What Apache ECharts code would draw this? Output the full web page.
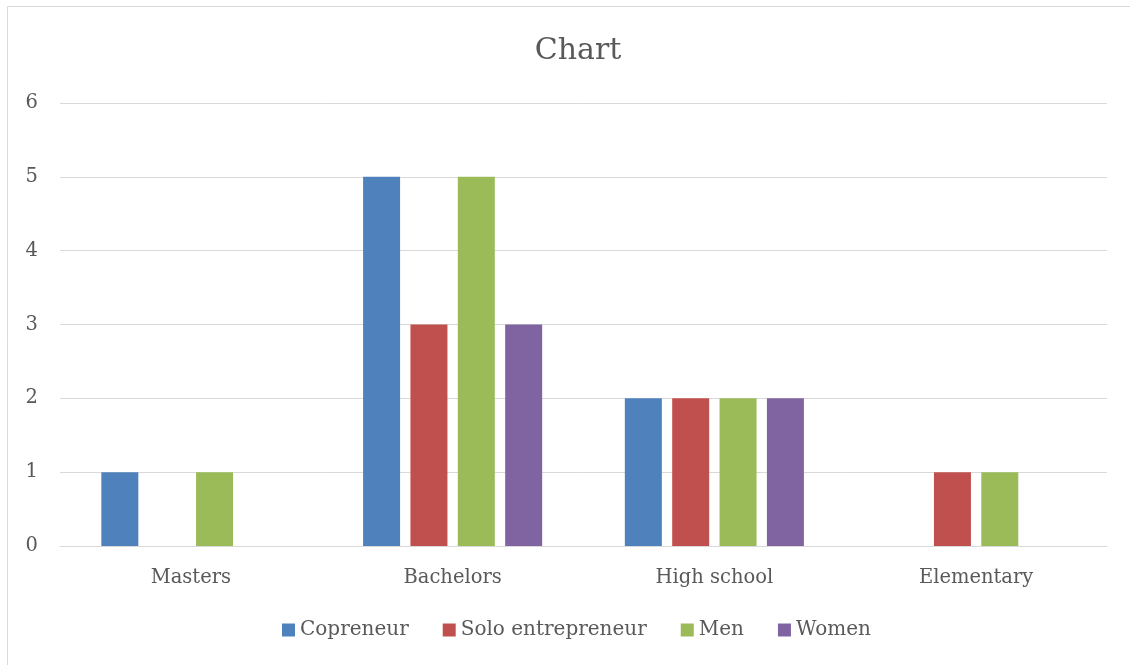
<!DOCTYPE html>
<html>
<head>
<meta charset="utf-8">
<script src="https://cdn.jsdelivr.net/npm/echarts@6/dist/echarts.min.js"></script>
<style>
  html, body { margin: 0; padding: 0; background: #fff; }
  #main { width: 1130px; height: 665px; }
</style>
</head>
<body>
<div id="main"></div>
<script>
var categories = ['Masters', 'Bachelors', 'High school', 'Elementary'];
var seriesNames = ['Copreneur', 'Solo entrepreneur', 'Men', 'Women'];
var copreneur = [1, 5, 2, 0];
var solo = [0, 3, 2, 1];
var men = [1, 5, 2, 1];
var women = [0, 3, 2, 0];
var yTicks = [0, 1, 2, 3, 4, 5, 6];

var colors = ['#4F81BD', '#C0504D', '#9BBB59', '#8064A2'];
var font = 'DejaVu Serif';
var values = [copreneur, solo, men, women];

var chart = echarts.init(document.getElementById('main'));

function barSeries(i) {
  return {
    name: seriesNames[i],
    type: 'bar',
    data: values[i],
    barWidth: 37,
    barGap: '28%',
    itemStyle: { color: colors[i] },
    animation: false
  };
}

chart.setOption({
  animation: false,
  title: {
    text: 'Chart',
    left: 573,
    textAlign: 'center',
    top: 31,
    textStyle: { fontFamily: font, fontSize: 30, fontWeight: 'normal', color: '#595959' }
  },
  // outer frame, only left and top edges are inside the picture
  graphic: [{
    type: 'rect',
    shape: { x: 7.5, y: 6.5, width: 1140, height: 680 },
    style: { fill: 'none', stroke: '#d9d9d9', lineWidth: 1 },
    silent: true
  }],
  legend: {
    data: seriesNames,
    bottom: 20,
    left: 277,
    itemWidth: 13,
    itemHeight: 13,
    itemGap: 34,
    icon: 'rect',
    textStyle: { fontFamily: font, fontSize: 20, color: '#595959' }
  },
  grid: { left: 60, right: 23, top: 103, bottom: 119 },
  xAxis: {
    type: 'category',
    data: categories,
    axisTick: { show: false },
    axisLine: { lineStyle: { color: '#d9d9d9', width: 1 } },
    axisLabel: { fontFamily: font, fontSize: 19.5, color: '#595959', margin: 22 }
  },
  yAxis: {
    type: 'value',
    min: yTicks[0],
    max: yTicks[yTicks.length - 1],
    interval: 1,
    axisLine: { show: false },
    axisTick: { show: false },
    splitLine: { lineStyle: { color: '#d9d9d9', width: 1 } },
    axisLabel: { fontFamily: font, fontSize: 19.5, color: '#595959', margin: 22, padding: [4, 0, 0, 0] }
  },
  series: [barSeries(0), barSeries(1), barSeries(2), barSeries(3)]
});
</script>
</body>
</html>
